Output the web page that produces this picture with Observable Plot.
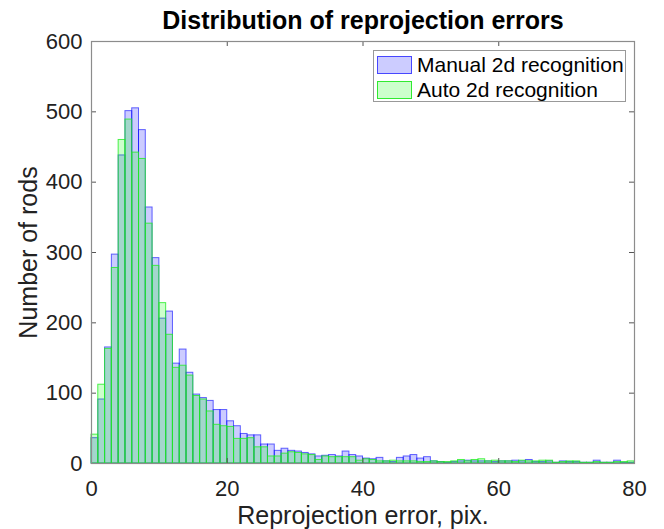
<!DOCTYPE html>
<html><head><meta charset="utf-8">
<script src="https://cdn.jsdelivr.net/npm/d3@7"></script>
<script src="https://cdn.jsdelivr.net/npm/@observablehq/plot@0.6"></script>
<style>
body{margin:0;background:#fff;font-family:"Liberation Sans",Arial,Helvetica,sans-serif;}
#wrap{position:relative;width:664px;height:529px;}
#legend{position:absolute;left:373px;top:50px;width:251px;height:50px;border:1px solid #999;background:#fff;}
.item{position:absolute;left:3px;height:19px;display:flex;align-items:center;}
.sw{width:35px;height:18px;box-sizing:border-box;margin-right:5px;}
.lab{font-size:21px;color:#000;line-height:19px;white-space:nowrap;}
</style></head><body>
<div id="wrap"></div>
<script>
const title = "Distribution of reprojection errors";
const xLabel = "Reprojection error, pix.";
const yLabel = "Number of rods";
const seriesNames = ["Manual 2d recognition", "Auto 2d recognition"];
const binWidth = 1;
const manualCounts = [36,91,165,297,438,501,505,474,364,292,206,216,142,162,129,98,93,89,76,76,
  60,53,42,40,40,27,27,18,21,18,17,15,13,10,11,12,10,17,12,10,
  7,6,8,3,2,8,10,12,7,9,3,2,1,2,3,4,3,3,3,2,
  3,3,4,3,5,2,2,3,1,3,2,2,1,1,4,1,1,4,1,1];
const autoCounts = [41,112,163,278,460,489,442,433,341,281,228,183,136,139,125,96,91,74,55,53,
  52,35,35,36,23,23,10,10,14,16,15,13,12,5,10,9,9,9,9,4,
  6,5,3,3,4,3,3,3,2,2,3,2,2,3,5,3,5,6,3,4,
  3,3,2,4,3,3,4,4,1,2,3,3,1,1,2,1,1,2,2,3];
const xTicks = [0,20,40,60,80];
const yTicks = [0,100,200,300,400,500,600];
const colors = {manual:"#0000ff", auto:"#00ff00"};

const W = 664, H = 529, mL = 91, mR = 30, mT = 41, mB = 66;
const innerW = W - mL - mR, innerH = H - mT - mB;
const toRows = arr => arr.map((v,i)=>({x1:i*binWidth, x2:(i+1)*binWidth, y:v}));
const manual = toRows(manualCounts), auto = toRows(autoCounts);
const axisColor = "#8c8c8c", tickColor = "#555";
const font = '"Liberation Sans", Arial, Helvetica, sans-serif';

const chart = Plot.plot({
  width: W, height: H,
  marginLeft: mL, marginRight: mR, marginTop: mT, marginBottom: mB,
  style: {fontFamily: font, background: "#fff", color: "#222"},
  x: {domain: [0, 80], ticks: xTicks},
  y: {domain: [0, 600], ticks: yTicks},
  marks: [
    Plot.rectY(manual, {x1:"x1", x2:"x2", y:"y", inset:0, fill: colors.manual, fillOpacity:0.2, stroke: colors.manual, strokeOpacity:0.6, strokeWidth:1}),
    Plot.rectY(auto, {x1:"x1", x2:"x2", y:"y", inset:0, fill: colors.auto, fillOpacity:0.2, stroke: "#22ee22", strokeOpacity:0.8, strokeWidth:1}),
    Plot.ruleX(xTicks.slice(1,-1), {x: d=>d, insetTop: innerH-5, stroke: tickColor}),
    Plot.ruleX(xTicks.slice(1,-1), {x: d=>d, insetBottom: innerH-5, stroke: tickColor}),
    Plot.ruleY(yTicks.slice(1,-1), {y: d=>d, insetRight: innerW-5, stroke: tickColor}),
    Plot.ruleY(yTicks.slice(1,-1), {y: d=>d, insetLeft: innerW-5, stroke: tickColor}),
    Plot.frame({stroke: axisColor, strokeWidth: 1.2}),
    Plot.axisX({ticks: xTicks, tickSize: 0, tickPadding: 17, fontSize: 22, label: null, fill: "#222"}),
    Plot.axisY({ticks: yTicks, tickSize: 0, tickPadding: 9, fontSize: 22, label: null, fill: "#222"}),
    Plot.text([xLabel], {frameAnchor: "bottom", dy: 60, lineAnchor: "bottom", fontSize: 25, fill: "#222"}),
    Plot.text([yLabel], {frameAnchor: "left", dx: -55, rotate: -90, textAnchor: "middle", lineAnchor: "bottom", fontSize: 25, fill: "#222"}),
    Plot.text([title], {frameAnchor: "top", dy: -13, lineAnchor: "bottom", fontSize: 25, fontWeight: "bold", fill: "#000"})
  ]
});
const wrap = document.getElementById("wrap");
wrap.appendChild(chart);

const legend = document.createElement("div");
legend.id = "legend";
const sw = [
  {name: seriesNames[0], fill:"rgba(0,0,255,0.2)", border:"rgba(0,0,255,0.65)", top:4},
  {name: seriesNames[1], fill:"rgba(0,255,0,0.2)", border:"rgba(20,230,20,0.85)", top:29}
];
sw.forEach(s=>{
  const it = document.createElement("div");
  it.className = "item"; it.style.top = s.top + "px";
  const b = document.createElement("div");
  b.className = "sw"; b.style.background = s.fill; b.style.border = "1.5px solid " + s.border;
  const t = document.createElement("span");
  t.className = "lab"; t.textContent = s.name;
  it.appendChild(b); it.appendChild(t);
  legend.appendChild(it);
});
wrap.appendChild(legend);
</script>
</body></html>
